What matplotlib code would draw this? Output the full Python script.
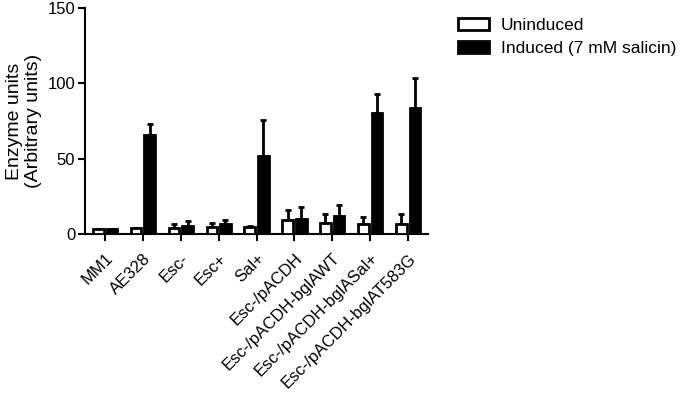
import numpy as np
import matplotlib
matplotlib.use("Agg")
import matplotlib.pyplot as plt
from matplotlib.patches import Patch

plt.rcParams["font.family"] = ["Liberation Sans", "DejaVu Sans"]

strains = ["MM1", "AE328", "Esc-", "Esc+", "Sal+", "Esc-/pACDH",
           "Esc-/pACDH-bglAWT", "Esc-/pACDH-bglASal+", "Esc-/pACDH-bglAT583G"]
uninduced = [3.0, 4.0, 4.0, 4.5, 4.5, 9.0, 7.0, 6.4, 6.4]
uninduced_err = [0.5, 0.3, 2.5, 3.0, 0.8, 7.0, 6.2, 5.0, 6.6]
induced = [3.0, 66.0, 5.5, 6.5, 52.0, 10.0, 12.1, 80.2, 83.7]
induced_err = [0.5, 7.0, 3.0, 2.5, 23.5, 8.0, 7.3, 13.0, 19.6]

fig = plt.figure(figsize=(6.8, 4.0), dpi=100)
ax = fig.add_axes([0.125, 0.415, 0.504, 0.565])

x = np.arange(len(strains))
w = 0.28
off = 0.18

ax.bar(x - off, uninduced, w, color="white", edgecolor="black", linewidth=2, zorder=3)
ax.bar(x + off, induced, w, color="black", edgecolor="black", linewidth=2, zorder=3)
ax.errorbar(x - off, uninduced, yerr=[np.zeros(len(x)), uninduced_err], fmt="none",
            ecolor="black", elinewidth=2, capsize=2.5, capthick=2, zorder=2)
ax.errorbar(x + off, induced, yerr=[np.zeros(len(x)), induced_err], fmt="none",
            ecolor="black", elinewidth=2, capsize=2.5, capthick=2, zorder=2)

ax.set_xlim(-0.53, 8.52)
ax.set_ylim(0, 150)
ax.set_yticks([0, 50, 100, 150])
ax.set_xticks(x)
ax.set_xticklabels(strains, rotation=45, ha="right", rotation_mode="anchor", fontsize=12)
ax.tick_params(axis="y", labelsize=12, width=1.5, length=5, pad=2)
ax.tick_params(axis="x", width=1.5, length=5, pad=7)
for s in ["top", "right"]:
    ax.spines[s].set_visible(False)
for s in ["left", "bottom"]:
    ax.spines[s].set_linewidth(1.5)
ax.set_ylabel("Enzyme units\n(Arbitrary units)", fontsize=14)
ax.yaxis.set_label_coords(-0.125, 0.5)

handles = [Patch(facecolor="white", edgecolor="black", linewidth=2, label="Uninduced"),
           Patch(facecolor="black", edgecolor="black", linewidth=2, label="Induced (7 mM salicin)")]
fig.legend(handles=handles, loc="upper left", bbox_to_anchor=(0.65, 0.995), frameon=False,
           fontsize=12.5, handlelength=1.8, handleheight=0.7, handletextpad=0.7, labelspacing=0.45)

plt.savefig("out.png", dpi=100)
